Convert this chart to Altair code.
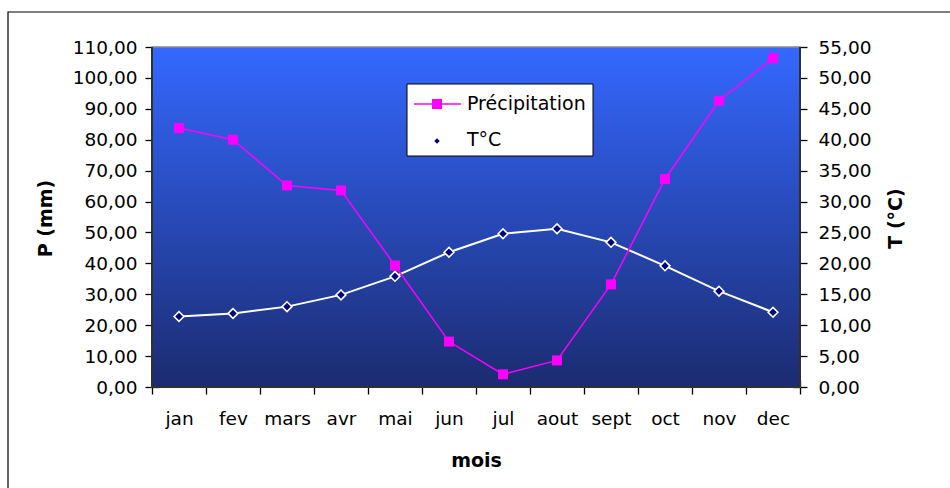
import altair as alt
import pandas as pd

# ---- data ----
mois = ['jan', 'fev', 'mars', 'avr', 'mai', 'jun', 'jul', 'aout', 'sept', 'oct', 'nov', 'dec']
precip = [83.8, 80.0, 65.2, 63.6, 39.3, 14.7, 4.1, 8.6, 33.2, 67.3, 92.6, 106.4]
temp = [11.4, 11.9, 13.0, 14.9, 17.9, 21.8, 24.8, 25.6, 23.4, 19.6, 15.5, 12.1]
series = ['Précipitation', 'T°C']
p_ticks = list(range(0, 111, 10))
t_ticks = list(range(0, 56, 5))

df = pd.DataFrame({'mois': mois, 'P': precip, 'T': temp})

W, H = 648, 340
FONT = 'DejaVu Sans'
LBL = 18.5
TTL = 19
fmt = "replace(format(datum.value, '.2f'), '.', ',')"


def one():
    return alt.Data(values=[{}])


x_enc = alt.X(
    'mois:N', sort=mois,
    scale=alt.Scale(type='band', paddingInner=0, paddingOuter=0),
    axis=alt.Axis(
        title='mois', tickBand='extent', offset=-7, tickSize=14, domain=False,
        labelAngle=0, labelPadding=15, labelFont=FONT, labelFontSize=LBL,
        labelColor='black', tickColor='black', tickWidth=1.3, grid=False,
        titleFont=FONT, titleFontSize=TTL, titleFontWeight='bold', titleColor='black',
        titleX=324, titleY=80, titleBaseline='middle', titleAlign='center'),
)

yl = alt.Y(
    'P:Q', scale=alt.Scale(domain=[0, 110], nice=False, zero=True),
    axis=alt.Axis(
        orient='left', values=p_ticks, labelExpr=fmt, offset=-7, tickSize=14,
        domain=False, grid=False, labelPadding=8, labelFont=FONT, labelFontSize=LBL,
        labelColor='black', tickColor='black', tickWidth=1.3, labelOverlap=False,
        labelFlush=False, labelBound=False,
        title='P (mm)', titleFont=FONT, titleFontSize=TTL, titleFontWeight='bold',
        titleColor='black', titleAngle=270, titleX=-114, titleY=171,
        titleBaseline='middle', titleAlign='center'),
)

yr = alt.Y(
    'T:Q', scale=alt.Scale(domain=[0, 55], nice=False, zero=True),
    axis=alt.Axis(
        orient='right', values=t_ticks, labelExpr=fmt, offset=-7, tickSize=14,
        domain=False, grid=False, labelPadding=11, labelFont=FONT, labelFontSize=LBL,
        labelColor='black', tickColor='black', tickWidth=1.3, labelOverlap=False,
        labelFlush=False, labelBound=False,
        title='T (°C)', titleFont=FONT, titleFontSize=TTL, titleFontWeight='bold',
        titleColor='black', titleAngle=270, titleX=102, titleY=171,
        titleBaseline='middle', titleAlign='center'),
)

grad = alt.Gradient(
    gradient='linear',
    stops=[alt.GradientStop(color='#3468FF', offset=0),
           alt.GradientStop(color='#1B2B70', offset=1)],
    x1=0, x2=0, y1=0, y2=1)

frame = alt.Chart(one()).mark_rect(fillOpacity=0, stroke='black', strokeWidth=1.2).encode(
    x=alt.value(-144), x2=alt.value(900), y=alt.value(-35), y2=alt.value(600))

bg = alt.Chart(one()).mark_rect(color=grad, stroke='#8c8c8c', strokeWidth=1.5).encode(
    x=alt.value(0), x2=alt.value(W), y=alt.value(0), y2=alt.value(H))

edge_l = alt.Chart(one()).mark_rule(color='#303030', strokeWidth=2).encode(
    x=alt.value(0), y=alt.value(0), y2=alt.value(H))
edge_r = alt.Chart(one()).mark_rule(color='#303030', strokeWidth=2).encode(
    x=alt.value(W), y=alt.value(0), y2=alt.value(H))
edge_b = alt.Chart(one()).mark_rule(color='#303030', strokeWidth=2).encode(
    x=alt.value(0), x2=alt.value(W), y=alt.value(H))

t_layer = alt.Chart(df).mark_line(
    color='white', strokeWidth=2,
    point=alt.OverlayMarkDef(shape='diamond', size=95, filled=True, fill='#000080',
                             stroke='white', strokeWidth=1.6, opacity=1),
).encode(x=x_enc, y=yr)

p_layer = alt.Chart(df).mark_line(
    color='#FF00FF', strokeWidth=1.5,
    point=alt.OverlayMarkDef(shape='square', size=100, filled=True, color='#FF00FF', opacity=1),
).encode(x=x_enc, y=yl)

# ---- legend box ----
leg_box = alt.Chart(one()).mark_rect(fill='white', stroke='black', strokeWidth=1).encode(
    x=alt.value(255), x2=alt.value(441), y=alt.value(37), y2=alt.value(109))
leg_line = alt.Chart(one()).mark_rule(color='#FF00FF', strokeWidth=1.5).encode(
    x=alt.value(262), x2=alt.value(309), y=alt.value(57))
leg_sq = alt.Chart(one()).mark_point(shape='square', size=100, filled=True, color='#FF00FF', opacity=1).encode(
    x=alt.value(285), y=alt.value(57))
leg_dm = alt.Chart(one()).mark_point(shape='diamond', size=30, filled=True, color='#000080', opacity=1).encode(
    x=alt.value(285), y=alt.value(94))
leg_t1 = alt.Chart(one()).mark_text(text=series[0], font=FONT, fontSize=19, color='black',
                                    align='left', baseline='alphabetic').encode(
    x=alt.value(315), y=alt.value(63))
leg_t2 = alt.Chart(one()).mark_text(text=series[1], font=FONT, fontSize=19, color='black',
                                    align='left', baseline='alphabetic').encode(
    x=alt.value(315), y=alt.value(99))

chart = alt.layer(
    frame, bg, t_layer, p_layer, edge_l, edge_r, edge_b,
    leg_box, leg_line, leg_sq, leg_dm, leg_t1, leg_t2,
).resolve_scale(y='independent').properties(
    width=W, height=H,
    padding={'left': 152, 'top': 47, 'right': 150, 'bottom': 101},
    autosize=alt.AutoSizeParams(type='none'),
    background='white',
).configure_view(strokeWidth=0)

chart.save('out.html', embed_options={'renderer': 'svg', 'actions': False})
